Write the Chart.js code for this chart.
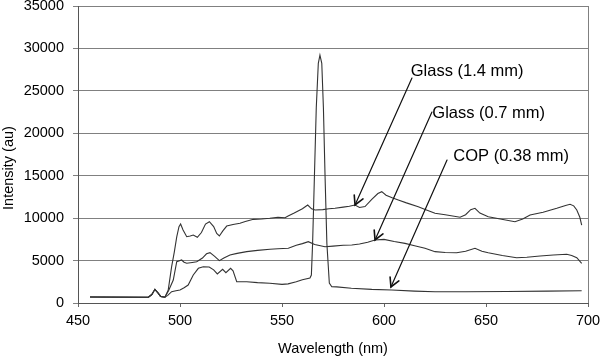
<!DOCTYPE html>
<html>
<head>
<meta charset="utf-8">
<script src="https://cdn.jsdelivr.net/npm/chart.js@4.4.1/dist/chart.umd.min.js"></script>
<style>
  body { margin: 0; background: #fff; }
  #chart { display: block; }
</style>
</head>
<body>
<canvas id="chart" width="600" height="358"></canvas>
<script>
// Spectra: wavelength (nm) / intensity (au)
const glass14Wl = [455.9, 484.5, 486.2, 487.7, 489.2, 490.5, 492.6, 494.2, 495.9, 497.2, 498.4, 499.5, 500.3, 501.5, 503.3, 505, 506.5, 508.5, 510.5, 512.5, 514.4, 516.5, 518, 519.3, 521, 522.9, 526, 529.4, 532, 536, 540, 544, 548, 551.5, 553, 556, 560, 562.6, 564.5, 566.2, 570, 573, 576, 580, 583, 585.8, 588, 590.7, 594, 597, 598.9, 601, 604, 607, 611, 616.8, 620.5, 625, 630, 637.3, 640, 642.5, 644.6, 647, 651.1, 657, 664.2, 668, 671.6, 678, 684.7, 689, 691.2, 693, 694.5, 696, 696.9];
const glass14Int = [700, 680, 1000, 1610, 1200, 780, 680, 1500, 4280, 6000, 7800, 9000, 9310, 8600, 7810, 7900, 8010, 7740, 8300, 9300, 9580, 9000, 8200, 7900, 8500, 9070, 9250, 9390, 9600, 9860, 9900, 9980, 10100, 10050, 10250, 10600, 11100, 11550, 11100, 10960, 11000, 11100, 11160, 11300, 11400, 11550, 11250, 11360, 12200, 12900, 13120, 12700, 12400, 12140, 11800, 11350, 11000, 10570, 10400, 10100, 10400, 11000, 11160, 10600, 10170, 9900, 9580, 9900, 10370, 10700, 11160, 11500, 11630, 11450, 10960, 10100, 9190];

const glass07Wl = [455.9, 484.5, 486.2, 487.7, 489.2, 490.5, 492.6, 494.5, 496.7, 498.4, 500.8, 502, 503.3, 506, 508.2, 511, 513, 514.7, 517, 519.3, 521.5, 524.5, 528, 532.7, 538, 544.1, 548, 553.1, 557, 560, 562.9, 566, 571.1, 575, 580, 584.2, 588, 592, 595.6, 600, 605, 610.3, 615, 620.1, 625, 630, 635.6, 640, 644.6, 648, 651.1, 658, 665, 670, 676.5, 683, 689.6, 692, 694.5, 696.9];
const glass07Int = [700, 680, 1000, 1610, 1200, 780, 680, 1500, 2710, 4870, 5070, 4800, 4680, 4780, 4870, 5300, 5800, 5930, 5500, 4990, 5300, 5660, 5850, 6050, 6200, 6330, 6400, 6450, 6800, 7000, 7230, 6900, 6630, 6700, 6800, 6830, 6950, 7150, 7420, 7500, 7250, 7030, 6750, 6450, 6050, 5950, 5930, 6100, 6450, 6100, 5930, 5600, 5340, 5400, 5540, 5650, 5740, 5600, 5340, 4680];

const copWl = [455.9, 484.5, 486.2, 487.7, 489.2, 490.5, 492.6, 494, 495.9, 498, 500, 502, 504, 506.5, 509, 511.4, 514.3, 516.5, 518.3, 520.9, 522.5, 524.8, 526, 527.8, 532.7, 538, 544, 550, 553, 557, 560, 563.7, 564.4, 565, 565.9, 566.8, 567.8, 568.6, 569.5, 570.3, 571.1, 572, 573.2, 574.4, 576.8, 584, 594, 603.8, 615, 625, 640, 660, 680, 696.9];
const copInt = [700, 680, 1000, 1610, 1200, 780, 680, 900, 1330, 1450, 1530, 1800, 2120, 3300, 4090, 4280, 4240, 3900, 3420, 3970, 3570, 4090, 3800, 2510, 2510, 2400, 2320, 2200, 2250, 2500, 2750, 2950, 3300, 7000, 15000, 23000, 28250, 29200, 28250, 23000, 15000, 7000, 2350, 1920, 1900, 1730, 1600, 1530, 1400, 1330, 1330, 1350, 1400, 1450];

// Callout labels and arrows, in data units
const labelTexts = ['Glass (1.4 mm)', 'Glass (0.7 mm)', 'COP (0.38 mm)'];
const labelAt = [[613.1, 27340], [623.7, 22366], [634.0, 17322]];
const arrowFrom = [[613.7, 26515], [623.5, 22508], [630.9, 16851]];
const arrowTo = [[585.8, 11549], [595.6, 7424], [603.4, 1885]];

const FONT = 'Liberation Sans, Arial, sans-serif';
const LINE = '#333';

function toPoints(xs, ys) {
  return xs.map((x, i) => ({ x: x, y: ys[i] }));
}

function spectrum(label, xs, ys) {
  return {
    label: label,
    data: toPoints(xs, ys),
    borderColor: LINE,
    borderWidth: 1.1,
    pointRadius: 0,
    tension: 0,
    fill: false
  };
}

// arrows + labels + y title
const calloutPlugin = {
  id: 'callouts',
  afterDraw(chart) {
    const ctx = chart.ctx;
    const xs = chart.scales.x, ys = chart.scales.y;
    ctx.save();
    ctx.strokeStyle = '#111';
    ctx.fillStyle = '#000';
    ctx.lineCap = 'round';
    for (let i = 0; i < labelTexts.length; i++) {
      const x0 = xs.getPixelForValue(arrowFrom[i][0]);
      const y0 = ys.getPixelForValue(arrowFrom[i][1]);
      const x1 = xs.getPixelForValue(arrowTo[i][0]);
      const y1 = ys.getPixelForValue(arrowTo[i][1]);
      ctx.lineWidth = 1.2;
      ctx.beginPath();
      ctx.moveTo(x0, y0);
      ctx.lineTo(x1, y1);
      ctx.stroke();
      // open arrow head
      const ang = Math.atan2(y1 - y0, x1 - x0);
      const len = 10, spread = 0.5;
      ctx.lineWidth = 1.6;
      ctx.beginPath();
      ctx.moveTo(x1 - len * Math.cos(ang - spread), y1 - len * Math.sin(ang - spread));
      ctx.lineTo(x1, y1);
      ctx.lineTo(x1 - len * Math.cos(ang + spread), y1 - len * Math.sin(ang + spread));
      ctx.stroke();

      ctx.font = '16.5px ' + FONT;
      ctx.textAlign = 'left';
      ctx.textBaseline = 'middle';
      ctx.fillText(labelTexts[i], xs.getPixelForValue(labelAt[i][0]), ys.getPixelForValue(labelAt[i][1]));
    }
    // y axis title (centred a little lower than the plot, as in the figure)
    ctx.translate(8.5, 168);
    ctx.rotate(-Math.PI / 2);
    ctx.font = '14.5px ' + FONT;
    ctx.textAlign = 'center';
    ctx.textBaseline = 'middle';
    ctx.fillText('Intensity (au)', 0, 0);
    ctx.restore();
  }
};

new Chart(document.getElementById('chart'), {
  type: 'line',
  data: {
    datasets: [
      spectrum('Glass (1.4 mm)', glass14Wl, glass14Int),
      spectrum('Glass (0.7 mm)', glass07Wl, glass07Int),
      spectrum('COP (0.38 mm)', copWl, copInt)
    ]
  },
  options: {
    responsive: false,
    animation: false,
    devicePixelRatio: 1,
    layout: { padding: { left: 0, top: 6, right: 12, bottom: 0 } },
    plugins: {
      legend: { display: false },
      tooltip: { enabled: false }
    },
    scales: {
      x: {
        type: 'linear',
        min: 450,
        max: 700,
        ticks: { stepSize: 50, color: '#000', padding: 5, maxRotation: 0, font: { family: FONT, size: 14.5 }, callback: v => String(v) },
        grid: {
          color: c => (c.tick && c.tick.value === 700) ? '#808080' : 'transparent',
          tickColor: '#666',
          tickLength: 4
        },
        border: { color: '#555', width: 1 },
        title: { display: true, text: 'Wavelength (nm)', color: '#000', padding: 0, font: { family: FONT, size: 14.5 } },
        afterFit: s => { s.height = 55; s.paddingLeft = 0; s.paddingRight = 0; }
      },
      y: {
        min: 0,
        max: 35000,
        ticks: { stepSize: 5000, color: '#000', padding: 9, font: { family: FONT, size: 14.5 }, callback: v => String(v) },
        grid: { color: '#808080', tickColor: '#808080', tickLength: 5 },
        border: { color: '#555', width: 1 },
        afterFit: s => { s.width = 78; s.paddingTop = 0; s.paddingBottom = 0; }
      }
    }
  },
  plugins: [calloutPlugin]
});
</script>
</body>
</html>
